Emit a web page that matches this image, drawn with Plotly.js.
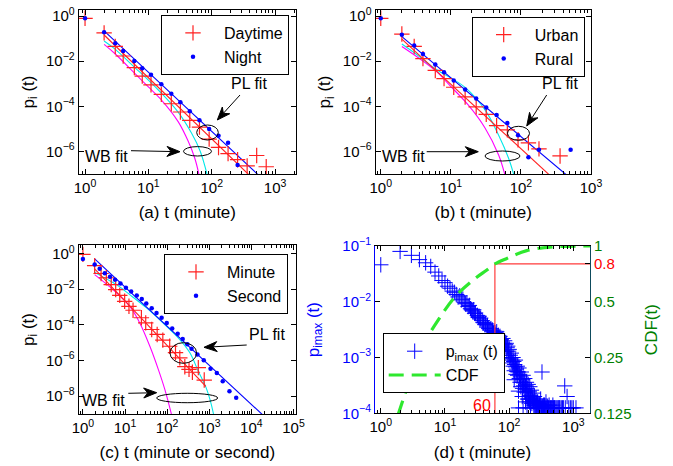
<!DOCTYPE html>
<html><head><meta charset="utf-8">
<script src="https://cdn.plot.ly/plotly-3.0.1.min.js"></script>
<style>html,body{margin:0;padding:0;background:#fff}#chart{width:673px;height:466px}</style>
</head><body><div id="chart"></div>
<script>
// ---------- data ----------
// (a)
const dayT = [1,2,3,4,6,8,11,16,23,32,45,64,91,128,181,256,362,512,724];
const dayP = [0.8,0.18,0.045,0.017,5.2e-3,2.2e-3,9e-4,3.4e-4,1.3e-4,5.6e-5,2.4e-5,1.2e-5,3.5e-6,1.5e-6,8e-7,4.3e-7,2.3e-7,6.6e-7,2.1e-7];
const nightT = [1,2,3,4,6,8,11,16,23,32,45,64,91,128,181,256];
const nightP = [0.8,0.19,0.062,0.028,0.0102,4.9e-3,2.5e-3,9.5e-4,3.6e-4,1.5e-4,6e-5,2.4e-5,1e-5,5e-6,2.4e-6,2.5e-7];
const plRedAT = [2,400], plRedAP = [0.145,8.4e-8];
const plBlueAT = [2,600], plBlueAP = [0.22,7e-8];
const wbCyanAT = [2,2.95,6.1,9.9,16.1,29.5,47.9,66,85];
const wbCyanAP = [0.079,0.035,5.2e-3,1.5e-3,3.8e-4,5.5e-5,6.5e-6,1e-6,8.9e-8];
const wbMagAT = [2,2.95,6.1,9.9,16.1,29.5,42.7,54,63];
const wbMagAP = [0.056,0.022,2.9e-3,7.4e-4,1.9e-4,2.1e-5,2.75e-6,5e-7,9.3e-8];
// (b)
const urbanT = [1,2,3,4,6,8,11,16,23,32,45,64,91,128,181,362];
const urbanP = [0.8,0.16,0.045,0.013,3.9e-3,1.7e-3,7e-4,2.6e-4,9.5e-5,4.4e-5,1.4e-5,9e-6,3.3e-6,2.4e-6,1.3e-6,6.3e-7];
const ruralT = [1,2,3,4,6,8,11,16,23,32,45,64,91,128,181,512];
const ruralP = [0.8,0.15,0.05,0.021,7.1e-3,3.2e-3,1.4e-3,5.5e-4,2.2e-4,8.9e-5,4.1e-5,1.8e-5,5.2e-6,5.5e-7,1.2e-6,1.2e-6];
const plRedBT = [2,300], plRedBP = [0.095,5.7e-8];
const plBlueBT = [2,500], plBlueBP = [0.123,6.8e-8];
const wbCyanBT = [2,3.44,5.97,15.8,30.9,47.9,66.5,79.4];
const wbCyanBP = [0.0575,0.0174,4.6e-3,7.1e-4,6.8e-5,5.4e-6,5.1e-7,8.9e-8];
const wbMagBT = [2,5.97,10.2,17.8,30.9,47.9,58.9];
const wbMagBP = [0.0447,3.9e-3,7.1e-4,1.12e-4,1.07e-5,7.1e-7,9.5e-8];
// (c)
const minuteT = [1,1.9,2.7,3.6,4.7,6,7.5,9.8,12.4,15.5,24.5,31,43,58,79,115,158,200,263,331,398,550,760];
const minuteP = [0.9,0.21,0.076,0.044,0.018,9.5e-3,4.5e-3,2.1e-3,1.1e-3,6.6e-4,2.5e-4,1.3e-4,5.5e-5,2.9e-5,1.4e-5,6.3e-6,2.8e-6,1.4e-6,4.5e-7,3.2e-7,2.2e-7,4e-7,8e-8];
const secondT = [1,1.9,2.5,3.3,4.4,5.8,7.8,10.5,14,19,25,32,43,56,74,98,132,178,234,302,380,525,741,1072,1514,2089,3020,4365];
const secondP = [0.5,0.24,0.14,0.079,0.05,0.034,0.021,0.012,7.4e-3,4.5e-3,2.8e-3,1.6e-3,8.5e-4,4.7e-4,2.5e-4,1.26e-4,6.3e-5,3.2e-5,1.6e-5,8.3e-6,4.6e-6,2.2e-6,1.05e-6,3.5e-7,2e-7,6.9e-8,1.9e-8,8.1e-9];
const plRedCT = [1.9,830], plRedCP = [0.138,3.6e-8];
const plBlueCT = [1.9,20000], plBlueCP = [0.5,7.6e-10];
const wbCyanCT = [1.9,3.6,6.24,12.9,32.4,79.4,200,347,550,871,1245,1318];
const wbCyanCP = [0.089,0.038,0.0182,5e-3,8.9e-4,1.29e-4,1.5e-5,2.7e-6,2.5e-7,2.4e-8,1.17e-9,5e-10];
const wbMagCT = [1.9,5.18,12.9,22.4,38.9,61.7,88.1,126,135];
const wbMagCP = [0.066,9.5e-3,1.12e-3,1.29e-4,6.3e-6,3.2e-7,2.4e-8,1e-9,5e-10];
// (d)
const pimaxT = [1,2,3,4,5,6,7,8,9,10,11,12,13,14,15,16,17,18,19,20,21,22,23,24,25,26,27,28,29,30,32,33,34,35,36,38,39,40,42,43,45,46,48,50,52,54,55,57,58,60,62,64,65,68,70,72,75,78,80,83,85,88,90,93,95,98,100,104,108,110,115,118,122,125,130,134,138,142,146,150,155,160,165,170,175,180,186,192,198,205,210,215,222,230,236,240,248,255,262,270,278,285,292,300,310,320,325,335,345,360,375,390,405,420,440,460,480,510,540,580,620,680,735,750,800,900,1100,
  120,140,160,180,200,140,165,190,215,245,265,290,315,350,380,430,470,500,560,600,650,700,850,950,1000,
  92,96,102,106,112,116,120,126,128,132,136,144,148,152,158,162,168,172,178,184,188,195,202,208,218,226,233,244,252,260,268,275,283,296,305,330,340,355,370,395,410,450,490,520,600];
const pimaxP = [0.046,0.08,0.068,0.057,0.05,0.043,0.034,0.029,0.024,0.022,0.019,0.0175,0.0155,0.0148,0.0135,0.0122,0.0128,0.0108,0.0112,0.0098,0.0092,0.0095,0.0082,0.0086,0.0075,0.0071,0.0068,0.0072,0.0062,0.0063,0.0057,0.0052,0.0055,0.0049,0.0051,0.0046,0.0043,0.0042,0.0039,0.0041,0.0035,0.0037,0.0033,0.0031,0.0033,0.0029,0.0031,0.0027,0.003,0.0028,0.0026,0.0029,0.0024,0.0025,0.0022,0.0024,0.0021,0.0019,0.0022,0.0018,0.002,0.0017,0.0018,0.0015,0.0016,0.0013,0.0014,0.0011,0.0012,0.0009,0.001,0.00085,0.00075,0.0009,0.00062,0.0007,0.00055,0.00065,0.0005,0.00045,0.00055,0.0004,0.00048,0.00035,0.00042,0.00031,0.00036,0.00028,0.00033,0.00025,0.0003,0.00021,0.00026,0.00019,0.00023,0.00016,0.0002,0.00014,0.00018,0.000125,0.00016,0.000125,0.00015,0.000125,0.00018,0.000125,0.00055,0.000125,0.00014,0.000125,0.00016,0.000125,0.000125,0.00014,0.000125,0.000125,0.00014,0.000125,0.000125,0.000125,0.000125,0.000125,0.00031,0.000125,0.0002,0.000125,0.000125,
  0.0004,0.00025,0.0002,0.00016,0.00018,0.000125,0.000125,0.000125,0.000125,0.000125,0.000125,0.000125,0.000125,0.000125,0.000125,0.000125,0.000125,0.000125,0.000125,0.000125,0.000125,0.000125,0.000125,0.000125,0.000125,
  0.0013,0.0011,0.001,0.00095,0.0008,0.0007,0.00058,0.00068,0.0005,0.00056,0.00048,0.00042,0.00036,0.0003,0.00036,0.00028,0.00031,0.00024,0.00027,0.0002,0.00024,0.00018,0.0002,0.00016,0.00018,0.00015,0.00017,0.00014,0.00016,0.00013,0.00015,0.00014,0.000125,0.00014,0.000125,0.00013,0.000125,0.00014,0.000125,0.00013,0.000125,0.000125,0.000125,0.000125,0.000125];
const cdfT = [1.85,2.4,3.9,7,14.4,27.7,45,60,92,188,490,1270,1900];
const cdfP = [0.122,0.16,0.264,0.375,0.532,0.656,0.742,0.8,0.857,0.944,0.99,1.0,1.0];
const markT = 60, markCDF = 0.8, cdfMin = 0.125, tMaxD = 1900;

// tick labels
const expA_x = [0,1,2,3], expA_y = [0,-2,-4,-6];
const expC_x = [0,1,2,3,4,5], expC_y = [0,-2,-4,-6,-8];
const expD_y = [-1,-2,-3,-4];
const cdfTicks = [0.125,0.25,0.5,0.8,1];
const cdfTickText = ['0.125','0.25','0.5','<span style="color:#ff0000">0.8</span>','1'];

// ---------- helpers ----------
const FONT = 'Liberation Sans, Arial, Helvetica, sans-serif';
const W = 673, H = 466;
const PX = v => v / W, PY = v => 1 - v / H;
const pow = e => Math.pow(10, e);
const supText = e => '10<sup>' + (e < 0 ? '\u2212' + (-e) : e) + '</sup>';
const RED = '#ff2020', BLUE = '#0000ff', CYAN = '#00e8e8', MAG = '#ff00ff';
const TICK = 15, TITLE = 17;

const plusRed = {symbol:'cross-thin', size:11, line:{color:RED, width:1.2}, color:RED};
const dotBlue = {symbol:'circle', size:4.5, color:BLUE, line:{width:0}};
const plusBlue = {symbol:'cross-thin', size:11, line:{color:BLUE, width:1}, color:BLUE};

function pts(x, y, xa, ya, name, marker, leg) {
  return {x, y, xaxis:xa, yaxis:ya, type:'scatter', mode:'markers', name, marker, legend:leg, cliponaxis:true};
}
function ln(x, y, xa, ya, color, spline) {
  return {x, y, xaxis:xa, yaxis:ya, type:'scatter', mode:'lines', showlegend:false, hoverinfo:'skip',
    line:{color, width:1.1, shape: spline ? 'spline' : 'linear', smoothing:1}};
}

const data = [
  // (a)
  ln(wbMagAT, wbMagAP, 'x', 'y', MAG, true),
  ln(wbCyanAT, wbCyanAP, 'x', 'y', CYAN, true),
  ln(plRedAT, plRedAP, 'x', 'y', RED),
  ln(plBlueAT, plBlueAP, 'x', 'y', BLUE),
  pts(dayT, dayP, 'x', 'y', 'Daytime', plusRed, 'legend'),
  pts(nightT, nightP, 'x', 'y', 'Night', dotBlue, 'legend'),
  // (b)
  ln(wbMagBT, wbMagBP, 'x2', 'y2', MAG, true),
  ln(wbCyanBT, wbCyanBP, 'x2', 'y2', CYAN, true),
  ln(plRedBT, plRedBP, 'x2', 'y2', RED),
  ln(plBlueBT, plBlueBP, 'x2', 'y2', BLUE),
  pts(urbanT, urbanP, 'x2', 'y2', 'Urban', plusRed, 'legend2'),
  pts(ruralT, ruralP, 'x2', 'y2', 'Rural', dotBlue, 'legend2'),
  // (c)
  ln(wbMagCT, wbMagCP, 'x3', 'y3', MAG, true),
  ln(wbCyanCT, wbCyanCP, 'x3', 'y3', CYAN, true),
  ln(plRedCT, plRedCP, 'x3', 'y3', RED),
  ln(plBlueCT, plBlueCP, 'x3', 'y3', BLUE),
  pts(minuteT, minuteP, 'x3', 'y3', 'Minute', plusRed, 'legend3'),
  pts(secondT, secondP, 'x3', 'y3', 'Second', dotBlue, 'legend3'),
  // (d)
  pts(pimaxT, pimaxP, 'x4', 'y4', 'p<sub>imax</sub> (t)', plusBlue, 'legend4'),
  {x:[markT, markT, tMaxD], y:[cdfMin, markCDF, markCDF], xaxis:'x4', yaxis:'y5', type:'scatter', mode:'lines',
    showlegend:false, hoverinfo:'skip', line:{color:'#ff3b3b', width:1.2}},
  {x:cdfT, y:cdfP, xaxis:'x4', yaxis:'y5', type:'scatter', mode:'lines', name:'CDF', legend:'legend4',
    line:{color:'#2ee82e', width:3.2, dash:'15px,8px', shape:'spline', smoothing:1}}
];

function axisBase(extra) {
  return Object.assign({
    type:'log', showgrid:false, zeroline:false, showline:true, linecolor:'#000', linewidth:1,
    mirror:'ticks', ticks:'inside', ticklen:5, tickcolor:'#000', tickwidth:1,
    tickfont:{family:FONT, size:TICK, color:'#000'}, tickmode:'array', automargin:false
  }, extra);
}
function xAx(dom, anchor, range, exps, title, standoff) {
  return axisBase({domain:dom, anchor, range, tickvals:exps.map(pow), ticktext:exps.map(supText),
    minor:{ticks:'inside', ticklen:3, tickcolor:'#000', dtick:'D1', showgrid:false},
    title:{text:title, font:{family:FONT, size:TITLE, color:'#000'}, standoff}});
}
function yAx(dom, anchor, range, exps, title, standoff) {
  return axisBase({domain:dom, anchor, range, tickvals:exps.map(pow), ticktext:exps.map(supText),
    title:{text:title, font:{family:FONT, size:TITLE, color:'#000'}, standoff}});
}

const domAx = [PX(78.7), PX(296)], domBx = [PX(375.5), PX(591)];
const domTopY = [PY(174), PY(10)], domBotY = [PY(414), PY(245)];
const domDx = [PX(375), PX(590)], domDy = [PY(413.3), PY(246)];

function legendAt(left, top) {
  return {x:PX(left), y:PY(top), xanchor:'left', yanchor:'top', bgcolor:'#ffffff', bordercolor:'#000',
    borderwidth:1, font:{family:FONT, size:16, color:'#000'}, itemwidth:52, tracegroupgap:0, itemclick:false};
}

function ell(cx, cy, rx, ry) {
  return {type:'circle', xref:'paper', yref:'paper', x0:PX(cx-rx), x1:PX(cx+rx), y0:PY(cy+ry), y1:PY(cy-ry),
    line:{color:'#000', width:1}, fillcolor:'rgba(0,0,0,0)'};
}
function label(cx, cy, text, color) {
  return {x:PX(cx), y:PY(cy), xref:'paper', yref:'paper', text, showarrow:false,
    font:{family:FONT, size:16, color: color || '#000'}, xanchor:'center', yanchor:'middle'};
}
// arrow drawn as shapes: shaft line + filled barbed head (pixel geometry -> paper)
function arrowShapes(tx, ty, fx, fy) {
  const dx = tx - fx, dy = ty - fy, len = Math.hypot(dx, dy);
  const ux = dx / len, uy = dy / len, nx = -uy, ny = ux;
  const L = 13, w = 5, notch = 9;
  const b1 = [tx - L*ux + w*nx, ty - L*uy + w*ny];
  const b2 = [tx - L*ux - w*nx, ty - L*uy - w*ny];
  const nt = [tx - notch*ux, ty - notch*uy];
  const P = p => PX(p[0]).toFixed(5) + ',' + PY(p[1]).toFixed(5);
  return [
    {type:'line', xref:'paper', yref:'paper', x0:PX(fx), y0:PY(fy), x1:PX(nt[0]), y1:PY(nt[1]), line:{color:'#000', width:1}},
    {type:'path', xref:'paper', yref:'paper', path:'M' + P([tx,ty]) + 'L' + P(b1) + 'L' + P(nt) + 'L' + P(b2) + 'Z',
      fillcolor:'#000', line:{color:'#000', width:1}}
  ];
}

const shapes = [
  ell(207.5, 132.5, 10.8, 7.5), ell(197.5, 151.3, 14, 4.7),
  ell(518.5, 133.3, 11, 7), ell(502.5, 156, 17.5, 5),
  ell(183.3, 353, 13.3, 10.3), ell(187.2, 398, 30.5, 4.7)
].concat(
  arrowShapes(217.3, 120, 240, 95), arrowShapes(180, 151.7, 131, 150.7),
  arrowShapes(526.7, 126, 546.7, 95), arrowShapes(478.3, 151.7, 426.7, 151.7),
  arrowShapes(204, 347.3, 246.7, 345), arrowShapes(156.7, 392.7, 128.3, 393.3)
);

const layout = {
  width:W, height:H, margin:{l:0, r:0, t:0, b:0}, paper_bgcolor:'#fff', plot_bgcolor:'#fff',
  font:{family:FONT, size:16, color:'#000'}, showlegend:true, hovermode:false,
  xaxis: xAx(domAx, 'y', [-0.1, 3.33], expA_x, '(a) t (minute)', 11),
  yaxis: yAx(domTopY, 'x', [-7, 0.27], expA_y, 'p<sub>i</sub> (t)', 7),
  xaxis2: xAx(domBx, 'y2', [-0.075, 3.0], expA_x, '(b) t (minute)', 11),
  yaxis2: yAx(domTopY, 'x2', [-7, 0.27], expA_y, 'p<sub>i</sub> (t)', 7),
  xaxis3: xAx(domAx, 'y3', [-0.1, 5.06], expC_x, '(c) t (minute or second)', 11),
  yaxis3: yAx(domBotY, 'x3', [-9, 0.48], expC_y, 'p<sub>i</sub> (t)', 7),
  xaxis4: xAx(domDx, 'y4', [-0.09, 3.26], expA_x, '(d) t (minute)', 11),
  yaxis4: axisBase({domain:domDy, anchor:'x4', range:[-4, -1], mirror:false, linecolor:BLUE,
    tickvals:expD_y.map(pow), ticktext:expD_y.map(supText), tickfont:{family:FONT, size:TICK, color:BLUE},
    tickcolor:'#000',
    title:{text:'p<sub>imax</sub> (t)', font:{family:FONT, size:TITLE, color:BLUE}, standoff:18}}),
  yaxis5: axisBase({domain:domDy, anchor:'x4', overlaying:'y4', side:'right', range:[Math.log10(0.125), 0],
    mirror:false, linecolor:'#0d4a5c', tickvals:cdfTicks, ticktext:cdfTickText,
    tickfont:{family:FONT, size:TICK, color:'#008000'},
    title:{text:'CDF(t)', font:{family:FONT, size:TITLE, color:'#008000'}, standoff:14}}),
  legend: legendAt(161, 15),
  legend2: legendAt(471.7, 16.7),
  legend3: legendAt(164, 254),
  legend4: legendAt(382.7, 333.3),
  shapes,
  annotations: [
    label(249.3, 84, 'PL fit'), label(106, 156.7, 'WB fit'),
    label(560, 83.3, 'PL fit'), label(403.3, 156.7, 'WB fit'),
    label(266.7, 334, 'PL fit'), label(103.3, 400.7, 'WB fit'),
    label(482, 405.7, '60', '#ff0000')
  ]
};

Plotly.newPlot('chart', data, layout, {staticPlot:true, displayModeBar:false});
</script></body></html>
